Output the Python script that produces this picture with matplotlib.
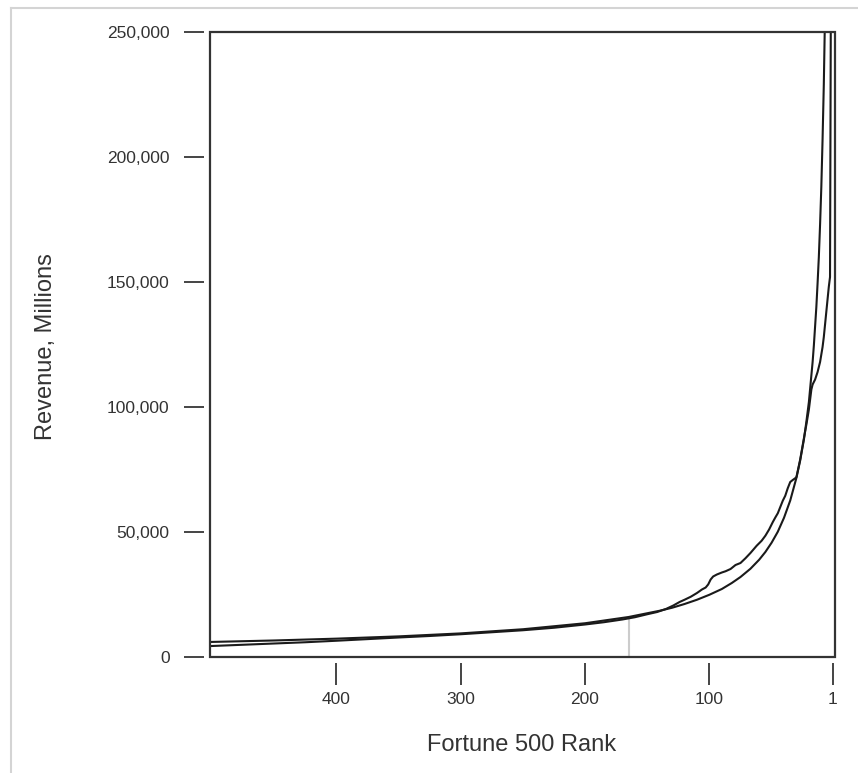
import matplotlib
matplotlib.use('Agg')
import matplotlib.pyplot as plt
from matplotlib.patches import Rectangle
from matplotlib.lines import Line2D

plt.rcParams['font.family'] = ['Liberation Sans', 'DejaVu Sans']

# smooth (fitted) curve
rank_fit = [5, 6, 7, 8, 9, 10, 11, 12, 13, 14, 16, 17, 20, 22, 24, 27, 30, 35, 40, 45, 50, 55,
            60, 67, 75, 82, 90, 100, 110, 120, 130, 140, 165, 200, 250, 300, 350, 400, 450, 500]
rev_fit = [347000, 295000, 258000, 229000, 207000, 188000, 173000, 160000, 149600, 140000,
           124600, 118000, 102000, 94200, 87000, 78600, 71700, 62600, 55700, 50100, 45700,
           42000, 38900, 35300, 32000, 29600, 27200, 24900, 22900, 21200, 19700, 18500, 16000,
           13500, 11100, 9440, 8250, 7340, 6610, 6030]

# actual revenues (jagged line)
rank_data = [1, 2, 3, 4, 5, 6, 7, 8, 9, 10, 11, 12, 13, 15, 17, 18, 20, 22, 24, 27, 30, 31, 33,
             35, 37, 39, 41, 43, 45, 47, 49, 52, 55, 58, 62, 67, 71, 75, 79, 83, 87, 90, 94,
             97, 99, 101, 103, 106, 110, 115, 120, 124, 129, 135, 142, 150, 160, 170, 185, 200,
             225, 250, 275, 300, 325, 350, 375, 400, 425, 450, 475, 500]
rev_data = [340000, 316000, 152000, 148000, 143000, 138000, 133000, 128000, 124000, 121000,
            118000, 116000, 114000, 111000, 109000, 107000, 99000, 93000, 87500, 79000, 72000,
            71500, 70800, 70000, 67500, 64500, 62500, 60000, 57500, 55800, 54000, 51000, 48500,
            46500, 44500, 41600, 39500, 37600, 36800, 35200, 34300, 33800, 33000, 32200, 31000,
            29000, 27800, 27000, 25600, 24100, 22900, 22000, 20600, 19200, 18000, 17100, 15900,
            15000, 13900, 13000, 11700, 10700, 9900, 9100, 8400, 7800, 7150, 6500, 5900, 5400,
            4900, 4400]

marker_rank = 165
marker_rev = 16000

xticks = [400, 300, 200, 100, 1]
yticks = [0, 50000, 100000, 150000, 200000, 250000]
ytick_labels = ['0', '50,000', '100,000', '150,000', '200,000', '250,000']

fig = plt.figure(figsize=(8.58, 7.73), dpi=100)
ax = fig.add_axes([210/858, 116/773, 625/858, 625/773])

ax.vlines(marker_rank, 0, marker_rev, color='#cccccc', lw=1.5, zorder=1)
ax.plot(rank_fit, rev_fit, color='#1a1a1a', lw=1.5, zorder=3)
ax.plot(rank_data, rev_data, color='#1a1a1a', lw=1.5, zorder=3)

ax.set_xlim(501.6, -1.0)
ax.set_ylim(0, 250000)
ax.set_xticks(xticks)
ax.set_xticklabels([str(t) for t in xticks])
ax.set_yticks(yticks)
ax.set_yticklabels(ytick_labels)

# detached ticks: offset spines, frame drawn as a box
for s in ['left', 'bottom']:
    ax.spines[s].set_position(('outward', 4.5))
for s in ax.spines.values():
    s.set_visible(False)
ax.add_patch(Rectangle((0, 0), 1, 1, transform=ax.transAxes, fill=False,
                       ec='#333333', lw=1.6, clip_on=False, zorder=5))

ax.tick_params(axis='y', length=14.5, width=1.4, color='#444444', pad=10,
               labelsize=12.5, labelcolor='#333333')
ax.tick_params(axis='x', length=16, width=1.4, color='#444444', pad=5,
               labelsize=12.5, labelcolor='#333333')

fig.text(46/858, 1 - 347/773, 'Revenue, Millions', rotation=90, ha='center', va='center',
         fontsize=17, color='#333333')
fig.text(522/858, 1 - 745/773, 'Fortune 500 Rank', ha='center', va='center',
         fontsize=17, color='#333333')

# light grey screenshot border (left and top)
fig.add_artist(Line2D([11/858, 11/858], [0, 1 - 8/773], transform=fig.transFigure,
                      color='#d4d4d4', lw=1.5))
fig.add_artist(Line2D([11/858, 1], [1 - 8/773, 1 - 8/773], transform=fig.transFigure,
                      color='#d4d4d4', lw=1.5))

fig.savefig('out.png', dpi=100)
